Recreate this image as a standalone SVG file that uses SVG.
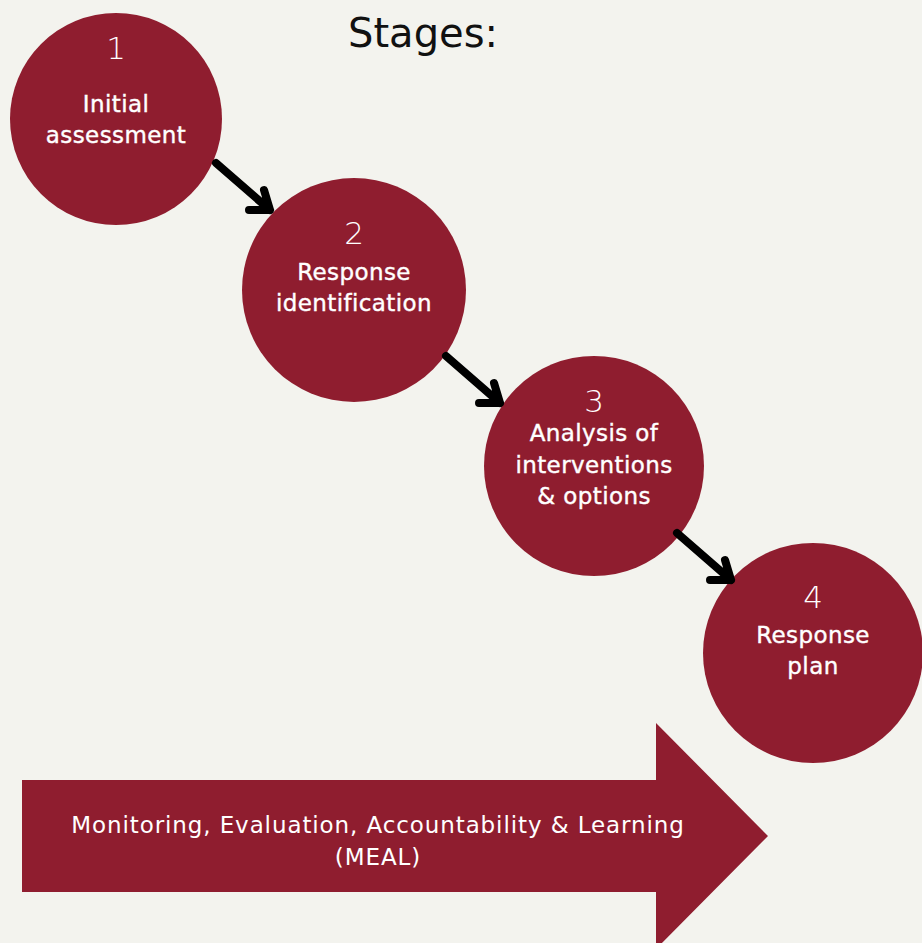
<svg xmlns="http://www.w3.org/2000/svg" width="922" height="943" viewBox="0 0 922 943">
<defs>
<style>
.node{fill:#8F1D2F}
.num{font-family:"DejaVu Sans","Liberation Sans",sans-serif;font-size:31px;fill:#ffffff;text-anchor:middle;font-weight:200}
.lbl{font-family:"DejaVu Sans","Liberation Sans",sans-serif;font-size:23px;letter-spacing:0.4px;fill:#ffffff;text-anchor:middle;stroke:#ffffff;stroke-width:0.4}
.meal{font-family:"DejaVu Sans","Liberation Sans",sans-serif;font-size:23px;letter-spacing:0.9px;fill:#ffffff;text-anchor:middle}
.title{font-family:"DejaVu Sans","Liberation Sans",sans-serif;font-size:40px;fill:#111111;text-anchor:middle}
.conn{fill:none;stroke:#000000;stroke-width:8;stroke-linecap:round;stroke-linejoin:round}
</style>
</defs>
<rect width="922" height="943" fill="#F3F3EE"/>
<text class="title" x="423" y="47">Stages:</text>
<g id="meal">
<polygon class="node" points="22,780 656,780 656,723 768,836 656,949 656,892 22,892"/>
<text class="meal" x="378" y="833">Monitoring, Evaluation, Accountability &amp; Learning</text>
<text class="meal" x="378" y="865">(MEAL)</text>
</g>
<g id="stage1">
<circle class="node" cx="116" cy="119" r="106"/>
<text class="num" x="116" y="59">1</text>
<text class="lbl" x="116" y="112">Initial</text>
<text class="lbl" x="116" y="143">assessment</text>
</g>
<g id="stage2">
<circle class="node" cx="354" cy="290" r="112"/>
<text class="num" x="354" y="244">2</text>
<text class="lbl" x="354" y="280">Response</text>
<text class="lbl" x="354" y="311">identification</text>
</g>
<g id="stage3">
<circle class="node" cx="594" cy="466" r="110"/>
<text class="num" x="594" y="412">3</text>
<text class="lbl" x="594" y="441">Analysis of</text>
<text class="lbl" x="594" y="473">interventions</text>
<text class="lbl" x="594" y="504">&amp; options</text>
</g>
<g id="stage4">
<circle class="node" cx="813" cy="653" r="110"/>
<text class="num" x="813" y="608">4</text>
<text class="lbl" x="813" y="643">Response</text>
<text class="lbl" x="813" y="674">plan</text>
</g>
<g id="connectors">
<path class="conn" d="M216,163 L270,210 M264,190 L270,210 L249,210"/>
<path class="conn" d="M446,356 L500,403 M494,383 L500,403 L479,403"/>
<path class="conn" d="M677,533 L731,580 M725,560 L731,580 L710,580"/>
</g>
</svg>
